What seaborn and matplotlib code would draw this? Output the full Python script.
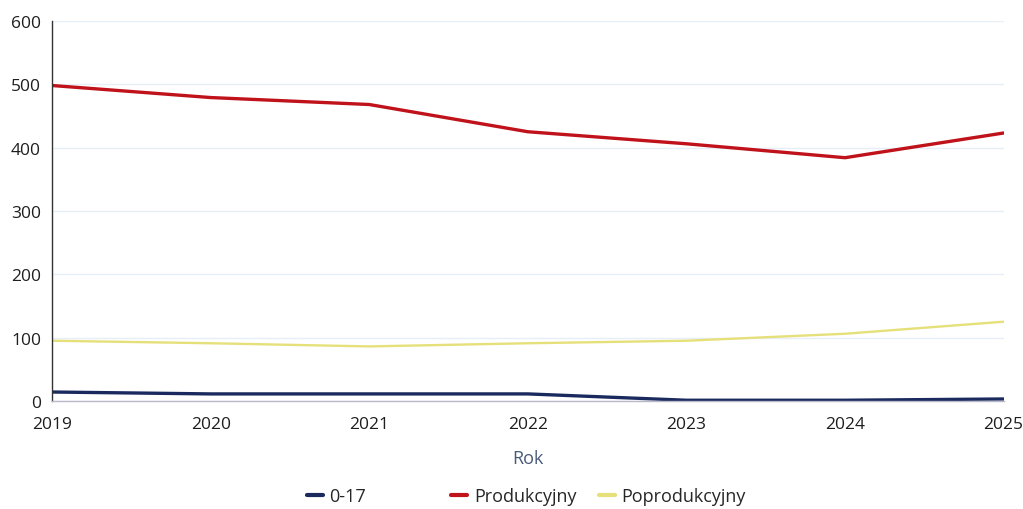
import matplotlib
matplotlib.use("Agg")
import matplotlib.pyplot as plt
import pandas as pd
import seaborn as sns

years = [2019, 2020, 2021, 2022, 2023, 2024, 2025]
age_0_17 = [14, 11, 11, 11, 1, 1, 3]
produkcyjny = [498, 479, 468, 425, 406, 384, 423]
poprodukcyjny = [95, 91, 86, 91, 95, 106, 125]

series_names = ["0-17", "Produkcyjny", "Poprodukcyjny"]
colors = ["#1a2a5e", "#c0121a", "#e6e07a"]

df = pd.DataFrame({
    "Rok": years * 3,
    "value": age_0_17 + produkcyjny + poprodukcyjny,
    "grupa": [series_names[0]] * 7 + [series_names[1]] * 7 + [series_names[2]] * 7,
})

sns.set_style("white")
plt.rcParams["font.family"] = ["Open Sans", "DejaVu Sans"]

fig = plt.figure(figsize=(10.23, 5.10), dpi=100)
ax = fig.add_axes([0.051, 0.212, 0.930, 0.745])

sns.lineplot(data=df, x="Rok", y="value", hue="grupa", palette=colors,
             hue_order=series_names, linewidth=2.4, ax=ax, legend=False)
# yellow line is thinner in the reference
ax.lines[2].set_linewidth(1.7)

ax.set_xlim(2019, 2025)
ax.set_ylim(0, 600)
ax.set_xticks(years)
ax.set_yticks([0, 100, 200, 300, 400, 500, 600])
ax.tick_params(axis="both", labelsize=12.5, colors="#1e1e1e", length=0)
ax.tick_params(axis="x", pad=11)
ax.tick_params(axis="y", pad=8)
ax.grid(axis="y", color="#e6eef8", linewidth=1)
ax.set_axisbelow(True)

for s in ["top", "right"]:
    ax.spines[s].set_visible(False)
ax.spines["left"].set_color("#333333")
ax.spines["left"].set_linewidth(1.0)
ax.spines["bottom"].set_color("#b8b8c8")
ax.spines["bottom"].set_linewidth(1.0)

ax.set_xlabel("Rok", fontsize=13, color="#4a5a7a", labelpad=12)
ax.set_ylabel("")

# legend entries are spaced unevenly in the reference, so place each one
legend_x = [0.293, 0.434, 0.578]
for name, c, x in zip(series_names, colors, legend_x):
    h = plt.Line2D([0], [0], color=c, linewidth=3)
    fig.legend([h], [name], loc="center left", frameon=False, fontsize=13,
               handlelength=0.9, handletextpad=0.35, borderaxespad=0,
               bbox_to_anchor=(x, 0.025))

fig.savefig("out.png", dpi=100)
